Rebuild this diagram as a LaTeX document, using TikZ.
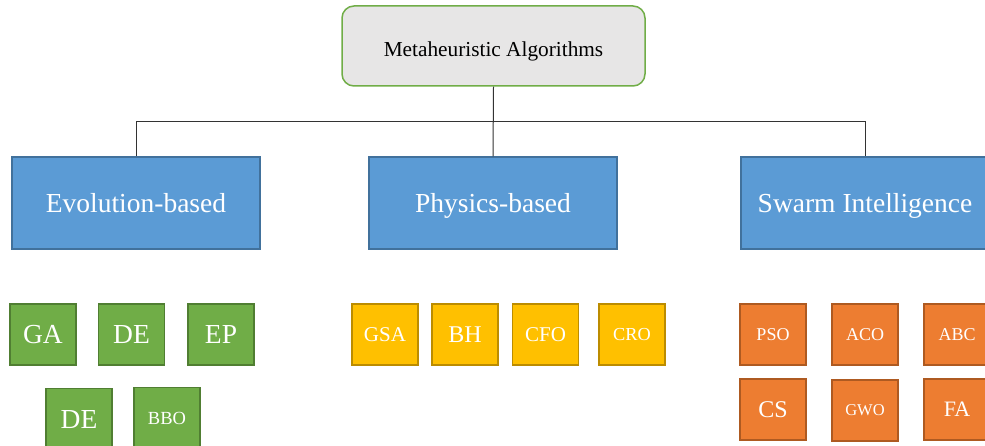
\documentclass[tikz,border=0pt]{standalone}
\usepackage{fontspec}
\setmainfont{Liberation Serif}
\definecolor{topfill}{HTML}{E7E6E6}
\definecolor{topline}{HTML}{70AD47}
\definecolor{bluefill}{HTML}{5B9BD5}
\definecolor{blueline}{HTML}{41719C}
\definecolor{greenfill}{HTML}{70AD47}
\definecolor{greenline}{HTML}{507E32}
\definecolor{yellowfill}{HTML}{FFC000}
\definecolor{yellowline}{HTML}{BC8C00}
\definecolor{orangefill}{HTML}{ED7D31}
\definecolor{orangeline}{HTML}{AE5A21}
\definecolor{wire}{HTML}{333333}
\newcommand{\fs}[1]{\fontsize{#1}{#1}\selectfont}
\tikzset{
  % font size in pt, with a text box that centres the capitals
  sz/.style={font=\fs{#1}, text height={0.72*#1pt}, text depth={0.06*#1pt}},
  rootbox/.style={draw=topline, fill=topfill, line width=1.5pt, rounded corners=12pt,
    minimum width=303pt, minimum height=80pt, inner sep=0pt, text=black,
    font=\fs{21.3}, text height=21.3pt, text depth=0pt},
  catbox/.style={draw=blueline, fill=bluefill, line width=1.2pt, sz=27.5,
    minimum width=248pt, minimum height=92pt, inner sep=0pt, text=white},
  algbox/.style={line width=1.2pt, minimum width=66pt, minimum height=61pt,
    inner sep=0pt, text=white},
  evobox/.style={algbox, draw=greenline, fill=greenfill},
  physbox/.style={algbox, draw=yellowline, fill=yellowfill},
  swarmbox/.style={algbox, draw=orangeline, fill=orangefill},
  wireline/.style={draw=wire, line width=1pt}
}
\begin{document}
\begin{tikzpicture}[x=1pt,y=1pt]
\useasboundingbox (0,0) rectangle (985,-446);
\clip (0,0) rectangle (985,-446);

% root and categories
\node[rootbox] (root) at (493.5,-46) {Metaheuristic Algorithms};
\node[catbox] (evo) at (136,-203) {Evolution-based};
\node[catbox] (phys) at (493,-203) {Physics-based};
\node[catbox] (swarm) at (865,-203) {Swarm Intelligence};

% tree connectors
\coordinate (bus) at (0,-122);
\draw[wireline] (root.south) -- (phys.north);
\draw[wireline] (evo.north) -- (evo.north |- bus) -- (swarm.north |- bus) -- (swarm.north);

% evolution-based algorithms
\node[evobox, sz=27.5] (ga)  at (43,-334.5) {GA};
\node[evobox, sz=27.5] (de1) at (131.5,-334.5) {DE};
\node[evobox, sz=27.5] (ep)  at (221,-334.5) {EP};
\node[evobox, sz=27.5] (de2) at (79,-419) {DE};
\node[evobox, sz=18.5] (bbo) at (167,-418) {BBO};

% physics-based algorithms
\node[physbox, sz=21] (gsa) at (385,-334.5) {GSA};
\node[physbox, sz=24] (bh)  at (465,-334.5) {BH};
\node[physbox, sz=21] (cfo) at (545.5,-334.5) {CFO};
\node[physbox, sz=18.3] (cro) at (632,-334.5) {CRO};

% swarm intelligence algorithms
\node[swarmbox, sz=18] (pso) at (773,-334.5) {PSO};
\node[swarmbox, sz=18] (aco) at (865,-334.5) {ACO};
\node[swarmbox, sz=18] (abc) at (957,-334.5) {ABC};
\node[swarmbox, sz=24] (cs)  at (773,-409.5) {CS};
\node[swarmbox, sz=16.5] (gwo) at (865,-410.5) {GWO};
\node[swarmbox, sz=22] (fa)  at (957,-409.5) {FA};
\end{tikzpicture}
\end{document}
